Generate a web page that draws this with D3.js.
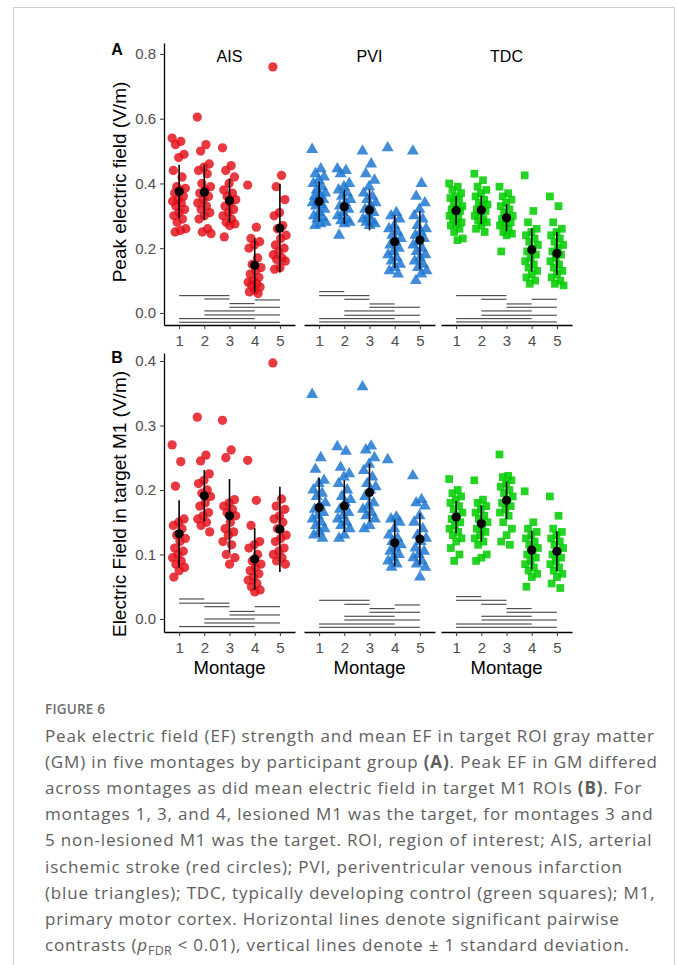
<!DOCTYPE html>
<html>
<head>
<meta charset="utf-8">
<script src="https://cdn.jsdelivr.net/npm/d3@7"></script>
<style>
  html, body { margin: 0; padding: 0; background: #fff; }
  svg { display: block; }
</style>
</head>
<body>
<svg id="chart" width="677" height="965"></svg>
<script>
// ---------------- DATA ----------------
const groups = ["AIS", "PVI", "TDC"];
const montages = ["1", "2", "3", "4", "5"];
const yTicksA = [0.0, 0.2, 0.4, 0.6, 0.8];
const yTicksB = [0.0, 0.1, 0.2, 0.3, 0.4];
const yLabelA = "Peak electric field (V/m)";
const yLabelB = "Electric Field in target M1 (V/m)";
const xLabel = "Montage";

// Panel A: peak electric field, one list per montage
const peakAIS = [
  [0.54, 0.53, 0.52, 0.49, 0.48, 0.44, 0.42, 0.39, 0.385, 0.38, 0.37, 0.36, 0.35, 0.345, 0.34, 0.33, 0.32, 0.31, 0.30, 0.29, 0.28, 0.26, 0.255, 0.25],
  [0.605, 0.52, 0.50, 0.46, 0.45, 0.44, 0.43, 0.40, 0.39, 0.38, 0.37, 0.36, 0.35, 0.34, 0.33, 0.32, 0.31, 0.30, 0.29, 0.26, 0.25, 0.245],
  [0.51, 0.455, 0.44, 0.42, 0.40, 0.38, 0.37, 0.36, 0.35, 0.34, 0.33, 0.32, 0.31, 0.30, 0.29, 0.28, 0.275, 0.27, 0.235],
  [0.395, 0.265, 0.23, 0.22, 0.21, 0.20, 0.17, 0.15, 0.14, 0.13, 0.12, 0.11, 0.10, 0.095, 0.09, 0.085, 0.08, 0.07, 0.065, 0.06],
  [0.76, 0.425, 0.39, 0.35, 0.31, 0.30, 0.27, 0.26, 0.24, 0.23, 0.21, 0.20, 0.19, 0.18, 0.17, 0.165, 0.16, 0.14, 0.135]
];
const peakPVI = [
  [0.505, 0.445, 0.43, 0.42, 0.41, 0.40, 0.39, 0.38, 0.37, 0.365, 0.36, 0.35, 0.345, 0.34, 0.335, 0.33, 0.32, 0.31, 0.30, 0.295, 0.29, 0.28, 0.275, 0.27],
  [0.445, 0.44, 0.43, 0.40, 0.39, 0.38, 0.37, 0.36, 0.35, 0.34, 0.33, 0.32, 0.31, 0.30, 0.29, 0.285, 0.28, 0.275, 0.24],
  [0.50, 0.46, 0.43, 0.41, 0.39, 0.37, 0.36, 0.35, 0.34, 0.33, 0.32, 0.31, 0.30, 0.29, 0.285, 0.28, 0.275, 0.27],
  [0.51, 0.31, 0.30, 0.29, 0.27, 0.26, 0.25, 0.24, 0.23, 0.22, 0.21, 0.20, 0.19, 0.18, 0.17, 0.16, 0.15, 0.14, 0.13, 0.12],
  [0.50, 0.40, 0.36, 0.34, 0.32, 0.30, 0.29, 0.27, 0.26, 0.25, 0.24, 0.23, 0.22, 0.21, 0.20, 0.19, 0.18, 0.17, 0.16, 0.15, 0.14, 0.13, 0.12, 0.10]
];
const peakTDC = [
  [0.40, 0.39, 0.38, 0.37, 0.36, 0.355, 0.35, 0.34, 0.33, 0.325, 0.32, 0.315, 0.31, 0.30, 0.295, 0.29, 0.28, 0.275, 0.27, 0.26, 0.25, 0.23, 0.225],
  [0.43, 0.41, 0.39, 0.38, 0.37, 0.36, 0.35, 0.34, 0.335, 0.33, 0.32, 0.315, 0.31, 0.30, 0.29, 0.285, 0.28, 0.27, 0.26, 0.25],
  [0.39, 0.37, 0.36, 0.35, 0.34, 0.33, 0.32, 0.31, 0.30, 0.295, 0.29, 0.28, 0.275, 0.27, 0.26, 0.25, 0.245, 0.24, 0.19],
  [0.425, 0.315, 0.28, 0.26, 0.25, 0.24, 0.23, 0.22, 0.21, 0.20, 0.19, 0.18, 0.17, 0.16, 0.15, 0.14, 0.13, 0.12, 0.11, 0.10, 0.09],
  [0.36, 0.33, 0.28, 0.26, 0.25, 0.24, 0.23, 0.22, 0.21, 0.20, 0.19, 0.18, 0.17, 0.16, 0.15, 0.14, 0.13, 0.12, 0.11, 0.10, 0.09, 0.085]
];
const peakMeanAIS = [0.375, 0.373, 0.347, 0.147, 0.262];
const peakSdAIS   = [0.083, 0.085, 0.068, 0.084, 0.137];
const peakMeanPVI = [0.344, 0.328, 0.318, 0.220, 0.225];
const peakSdPVI   = [0.062, 0.053, 0.063, 0.082, 0.090];
const peakMeanTDC = [0.316, 0.318, 0.294, 0.195, 0.184];
const peakSdTDC   = [0.045, 0.044, 0.042, 0.067, 0.067];

// Panel B: mean electric field in target M1
const m1AIS = [
  [0.27, 0.244, 0.206, 0.155, 0.15, 0.145, 0.14, 0.13, 0.125, 0.12, 0.11, 0.105, 0.10, 0.095, 0.09, 0.085, 0.08, 0.075, 0.065],
  [0.313, 0.254, 0.245, 0.225, 0.215, 0.21, 0.20, 0.195, 0.19, 0.18, 0.175, 0.165, 0.16, 0.155, 0.15, 0.145, 0.135],
  [0.308, 0.262, 0.25, 0.185, 0.18, 0.175, 0.17, 0.165, 0.16, 0.15, 0.14, 0.135, 0.13, 0.12, 0.115, 0.10, 0.095, 0.085],
  [0.246, 0.184, 0.145, 0.12, 0.115, 0.11, 0.10, 0.09, 0.085, 0.08, 0.075, 0.07, 0.065, 0.06, 0.055, 0.05, 0.045, 0.042],
  [0.397, 0.186, 0.175, 0.17, 0.16, 0.155, 0.15, 0.14, 0.13, 0.125, 0.12, 0.11, 0.105, 0.10, 0.095, 0.09, 0.085]
];
const m1PVI = [
  [0.348, 0.25, 0.232, 0.215, 0.21, 0.20, 0.195, 0.19, 0.18, 0.175, 0.17, 0.165, 0.16, 0.155, 0.15, 0.145, 0.14, 0.135, 0.13, 0.125],
  [0.267, 0.26, 0.235, 0.225, 0.22, 0.21, 0.20, 0.19, 0.185, 0.18, 0.17, 0.165, 0.16, 0.155, 0.15, 0.145, 0.14, 0.13, 0.125],
  [0.36, 0.268, 0.262, 0.25, 0.24, 0.23, 0.22, 0.21, 0.205, 0.20, 0.19, 0.18, 0.175, 0.17, 0.165, 0.16, 0.155, 0.145, 0.14],
  [0.247, 0.158, 0.155, 0.15, 0.14, 0.13, 0.125, 0.12, 0.115, 0.11, 0.105, 0.10, 0.095, 0.09, 0.085, 0.08],
  [0.222, 0.185, 0.18, 0.175, 0.16, 0.15, 0.14, 0.13, 0.125, 0.12, 0.11, 0.105, 0.10, 0.095, 0.09, 0.085, 0.08, 0.065]
];
const m1TDC = [
  [0.217, 0.20, 0.195, 0.19, 0.185, 0.18, 0.175, 0.17, 0.165, 0.16, 0.155, 0.15, 0.145, 0.14, 0.135, 0.13, 0.125, 0.12, 0.11, 0.10, 0.09],
  [0.215, 0.185, 0.18, 0.175, 0.17, 0.165, 0.16, 0.155, 0.15, 0.145, 0.14, 0.135, 0.13, 0.125, 0.12, 0.115, 0.10, 0.095, 0.09],
  [0.255, 0.222, 0.22, 0.215, 0.21, 0.205, 0.20, 0.195, 0.19, 0.185, 0.18, 0.175, 0.17, 0.165, 0.16, 0.15, 0.14, 0.13, 0.12, 0.115],
  [0.198, 0.15, 0.14, 0.135, 0.13, 0.125, 0.12, 0.115, 0.11, 0.105, 0.10, 0.095, 0.09, 0.085, 0.08, 0.075, 0.07, 0.065, 0.05],
  [0.19, 0.16, 0.14, 0.135, 0.13, 0.125, 0.12, 0.115, 0.11, 0.105, 0.10, 0.095, 0.09, 0.085, 0.08, 0.075, 0.07, 0.065, 0.055, 0.048]
];
const m1MeanAIS = [0.132, 0.191, 0.160, 0.093, 0.139];
const m1SdAIS   = [0.052, 0.040, 0.057, 0.048, 0.066];
const m1MeanPVI = [0.173, 0.175, 0.196, 0.118, 0.124];
const m1SdPVI   = [0.046, 0.040, 0.045, 0.036, 0.040];
const m1MeanTDC = [0.158, 0.148, 0.184, 0.107, 0.105];
const m1SdTDC   = [0.025, 0.028, 0.029, 0.030, 0.031];

// significant pairwise contrasts: [from montage, to montage, height]
const sigPeakAIS = [[1,3,0.0534],[2,3,0.0432],[4,5,0.0402],[3,4,0.0287],[3,5,0.0176],[2,4,0.0062],[2,5,-0.0062],[1,4,-0.0176],[1,5,-0.0287]];
const sigPeakPVI = [[1,2,0.0658],[1,3,0.0534],[2,3,0.0423],[3,4,0.0278],[3,5,0.0176],[2,4,0.0062],[2,5,-0.0071],[1,4,-0.0176],[1,5,-0.0278]];
const sigPeakTDC = [[1,3,0.0534],[2,3,0.0423],[4,5,0.0423],[3,4,0.0278],[3,5,0.0176],[2,4,0.0062],[2,5,-0.0071],[1,4,-0.0176],[1,5,-0.0278]];
const sigM1AIS = [[1,2,0.0310],[1,3,0.0245],[2,3,0.0190],[4,5,0.0190],[3,4,0.0118],[3,5,0.0062],[2,4,0.0],[2,5,-0.0062],[1,4,-0.0119]];
const sigM1PVI = [[1,3,0.0290],[2,3,0.0228],[4,5,0.0217],[3,4,0.0160],[3,5,0.0104],[2,4,0.0042],[2,5,-0.0016],[1,4,-0.0078],[1,5,-0.0129]];
const sigM1TDC = [[1,2,0.0346],[1,3,0.0290],[2,3,0.0228],[3,4,0.0160],[3,5,0.0104],[2,4,0.0042],[2,5,-0.0016],[1,4,-0.0078],[1,5,-0.0129]];

const captionTitle = "FIGURE 6";

// ---------------- DRAW ----------------
const svg = d3.select("#chart");
const W = 677, H = 965;
svg.append("rect").attr("width", W).attr("height", H).attr("fill", "#fff");
svg.append("rect").attr("x", 13.5).attr("y", 7.5).attr("width", 661).attr("height", 1000)
  .attr("fill", "none").attr("stroke", "#cfcfcf").attr("stroke-width", 1);

const FONT = "'Liberation Sans', Arial, Helvetica, sans-serif";
const panelX0 = [164, 304, 441];
const panelW = 131;

const styles = {
  AIS: { symbol: d3.symbolCircle, size: 68, fill: "#e30d17", opacity: 0.82 },
  PVI: { symbol: d3.symbolTriangle, size: 62, fill: "#1c76d0", opacity: 0.84 },
  TDC: { symbol: d3.symbolSquare, size: 60, fill: "#00cc00", opacity: 0.86 }
};

const rows = [
  {
    key: "A", top: 43, bottom: 325, domain: [-0.0372, 0.8338], ticks: yTicksA, label: yLabelA,
    pts: { AIS: peakAIS, PVI: peakPVI, TDC: peakTDC },
    mean: { AIS: peakMeanAIS, PVI: peakMeanPVI, TDC: peakMeanTDC },
    sd: { AIS: peakSdAIS, PVI: peakSdPVI, TDC: peakSdTDC },
    sig: { AIS: sigPeakAIS, PVI: sigPeakPVI, TDC: sigPeakTDC },
    strip: true, xTitle: false, letterY: 55, labelCy: 182
  },
  {
    key: "B", top: 353, bottom: 632, domain: [-0.0202, 0.4124], ticks: yTicksB, label: yLabelB,
    pts: { AIS: m1AIS, PVI: m1PVI, TDC: m1TDC },
    mean: { AIS: m1MeanAIS, PVI: m1MeanPVI, TDC: m1MeanTDC },
    sd: { AIS: m1SdAIS, PVI: m1SdPVI, TDC: m1SdTDC },
    sig: { AIS: sigM1AIS, PVI: sigM1PVI, TDC: sigM1TDC },
    strip: false, xTitle: true, letterY: 363, labelCy: 504
  }
];

// deterministic horizontal spread of points within a montage column (layout only)
function spread(i) { return (((i * 0.6180339887) % 1) - 0.5) * 2 * 7; }

rows.forEach(row => {
  const y = d3.scaleLinear().domain(row.domain).range([row.bottom, row.top]);

  // panel letter
  svg.append("text").attr("x", 117).attr("y", row.letterY).attr("text-anchor", "middle")
    .attr("font-family", FONT).attr("font-weight", "bold").attr("font-size", 16).attr("fill", "#000")
    .text(row.key);

  // y title
  svg.append("text")
    .attr("transform", `translate(126,${row.labelCy}) rotate(-90)`)
    .attr("text-anchor", "middle").attr("font-family", FONT).attr("font-size", 19).attr("fill", "#000")
    .text(row.label);

  groups.forEach((g, gi) => {
    const x0 = panelX0[gi];
    const x = d3.scalePoint().domain(montages).range([x0, x0 + panelW]).padding(0.6);
    const st = styles[g];
    const gp = svg.append("g");

    // significance lines
    gp.append("g").selectAll("line").data(row.sig[g]).join("line")
      .attr("x1", d => x(String(d[0]))).attr("x2", d => x(String(d[1])))
      .attr("y1", d => y(d[2])).attr("y2", d => y(d[2]))
      .attr("stroke", "#1a1a1a").attr("stroke-width", 0.9);

    // points
    montages.forEach((m, mi) => {
      const vals = row.pts[g][mi];
      gp.append("g").selectAll("path").data(vals).join("path")
        .attr("d", d3.symbol().type(st.symbol).size(st.size))
        .attr("transform", (d, i) => `translate(${x(m) + spread(i)},${y(d)})`)
        .attr("fill", st.fill).attr("fill-opacity", st.opacity);
    });

    // sd lines and means
    gp.append("g").selectAll("line").data(montages).join("line")
      .attr("x1", m => x(m)).attr("x2", m => x(m))
      .attr("y1", (m, i) => y(row.mean[g][i] + row.sd[g][i]))
      .attr("y2", (m, i) => y(row.mean[g][i] - row.sd[g][i]))
      .attr("stroke", "#000").attr("stroke-width", 1.6);
    gp.append("g").selectAll("circle").data(montages).join("circle")
      .attr("cx", m => x(m)).attr("cy", (m, i) => y(row.mean[g][i]))
      .attr("r", 4.6).attr("fill", "#000");

    // x axis
    const xa = gp.append("g").attr("transform", `translate(0,${row.bottom})`)
      .call(d3.axisBottom(x).tickSize(4).tickSizeOuter(0));
    xa.select(".domain").attr("stroke", "#000").attr("stroke-width", 1.3);
    xa.selectAll(".tick line").attr("stroke", "#333").attr("stroke-width", 1);
    xa.selectAll(".tick text").attr("y", 10).attr("font-family", FONT).attr("font-size", 15)
      .attr("fill", "#4d4d4d");

    // y axis only on the first panel
    if (gi === 0) {
      const ya = gp.append("g").attr("transform", `translate(${x0},0)`)
        .call(d3.axisLeft(y).tickValues(row.ticks).tickFormat(d3.format(".1f")).tickSize(4).tickSizeOuter(0));
      ya.select(".domain").attr("stroke", "#000").attr("stroke-width", 1.3);
      ya.selectAll(".tick line").attr("stroke", "#333").attr("stroke-width", 1);
      ya.selectAll(".tick text").attr("x", -8).attr("font-family", FONT).attr("font-size", 15)
        .attr("fill", "#4d4d4d");
    }

    // facet strip title
    if (row.strip) {
      svg.append("text").attr("x", x0 + panelW / 2).attr("y", 62).attr("text-anchor", "middle")
        .attr("font-family", FONT).attr("font-size", 16).attr("fill", "#000").text(g);
    }
    if (row.xTitle) {
      svg.append("text").attr("x", x0 + panelW / 2).attr("y", 674).attr("text-anchor", "middle")
        .attr("font-family", FONT).attr("font-size", 18.5).attr("fill", "#000").text(xLabel);
    }
  });
});

// ---------------- CAPTION ----------------
const CAP = "'Open Sans', 'Noto Sans', sans-serif";
svg.append("text").attr("x", 45).attr("y", 714).attr("font-family", CAP).attr("font-size", 13.5)
  .attr("font-weight", 600).attr("letter-spacing", 0.2).attr("fill", "#6e6e6e").text(captionTitle);

const captionLines = [
  [["Peak electric field (EF) strength and mean EF in target ROI gray matter", ""]],
  [["(GM) in five montages by participant group ", ""], ["(A)", "b"], [". Peak EF in GM differed", ""]],
  [["across montages as did mean electric field in target M1 ROIs ", ""], ["(B)", "b"], [". For", ""]],
  [["montages 1, 3, and 4, lesioned M1 was the target, for montages 3 and", ""]],
  [["5 non-lesioned M1 was the target. ROI, region of interest; AIS, arterial", ""]],
  [["ischemic stroke (red circles); PVI, periventricular venous infarction", ""]],
  [["(blue triangles); TDC, typically developing control (green squares); M1,", ""]],
  [["primary motor cortex. Horizontal lines denote significant pairwise", ""]],
  [["contrasts (", ""], ["p", "i"], ["FDR", "sub"], [" < 0.01), vertical lines denote ± 1 standard deviation.", "after"]]
];
const cap = svg.append("g").attr("font-family", CAP).attr("font-size", 17)
  .attr("letter-spacing", 0.85).attr("fill", "#5e5e5e");
captionLines.forEach((parts, li) => {
  const t = cap.append("text").attr("x", 45).attr("y", 742 + li * 26.1);
  parts.forEach(([s, k]) => {
    const ts = t.append("tspan").text(s);
    if (k === "b") ts.attr("font-weight", "bold");
    if (k === "i") ts.attr("font-style", "italic");
    if (k === "sub") ts.attr("font-size", 12.5).attr("dy", 4).attr("letter-spacing", 0.3);
    if (k === "after") ts.attr("dy", -4);
  });
});
</script>
</body>
</html>
